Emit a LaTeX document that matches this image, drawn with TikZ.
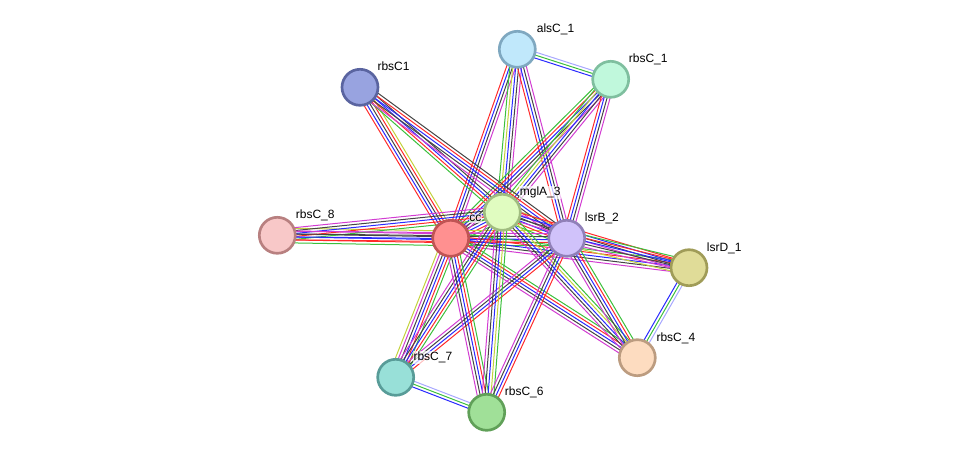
\documentclass[tikz,border=0pt]{standalone}
\usepackage{fontspec}
\setmainfont{Liberation Sans}
\usetikzlibrary{calc}
\pgfdeclarelayer{background}
\pgfsetlayers{background,main}
\definecolor{sgreen}{HTML}{3CC03C}
\definecolor{sred}{HTML}{FF2A2A}
\definecolor{sblue}{HTML}{2A2AFF}
\definecolor{sblack}{HTML}{444444}
\definecolor{smag}{HTML}{D23CD2}
\definecolor{syel}{HTML}{C3D23C}
\definecolor{slav}{HTML}{A8A8FF}
\newcommand\bund[3]{%
  \edef\blist{#3}%
  \foreach \c [count=\i] in \blist {\xdef\bn{\i}}%
  \foreach \c [count=\i] in \blist {%
    \pgfmathsetmacro\o{(\i-(\bn+1)/2)*2.2}%
    \draw[edge,\c] ($(#1.center)!\o pt!90:(#2.center)$) -- ($(#2.center)!\o pt!-90:(#1.center)$);
  }}
\def\LA{sgreen,sred,sblue,sblack,smag}
\def\LB{sred,sblue,sblack,smag}
\def\LC{sgreen,sred,sblue,sblack,smag,syel}
\def\LD{sgreen,syel,sblue,sblack,smag}
\def\LH{sblue,sgreen,slav}
\tikzset{
  gnode/.style={circle,minimum size=27pt,inner sep=0pt,line width=2pt},
  lbl/.style={anchor=base west,font=\fontsize{9pt}{10pt}\selectfont,inner sep=0.6pt,
    fill=white,fill opacity=0.7,text opacity=1},
  edge/.style={line width=0.75pt}
}
\begin{document}
\begin{tikzpicture}[x=0.75pt,y=-0.75pt]
\useasboundingbox (0,0) rectangle (976,458);
% labels (under nodes)
\node[lbl] (t-cc) at (468.3,221.6) {cc};
% nodes
\node[gnode,fill={rgb,255:red,255;green,144;blue,144},draw={rgb,255:red,192;green,84;blue,84}] (cc) at (450.7,238.3) {};
\node[gnode,fill={rgb,255:red,224;green,252;blue,192},draw={rgb,255:red,160;green,188;blue,128}] (mglA) at (502.3,212.3) {};
\node[gnode,fill={rgb,255:red,208;green,194;blue,250},draw={rgb,255:red,144;green,128;blue,184}] (lsrB) at (566.7,238.3) {};
\node[gnode,fill={rgb,255:red,192;green,232;blue,251},draw={rgb,255:red,127;green,168;blue,192}] (alsC) at (517.3,49.3) {};
\node[gnode,fill={rgb,255:red,192;green,248;blue,220},draw={rgb,255:red,127;green,191;blue,159}] (rbsCa) at (610.7,79.3) {};
\node[gnode,fill={rgb,255:red,152;green,163;blue,224},draw={rgb,255:red,90;green,100;blue,160}] (rbsCb) at (360,87.3) {};
\node[gnode,fill={rgb,255:red,248;green,200;blue,200},draw={rgb,255:red,184;green,128;blue,128}] (rbsCh) at (277.3,235.3) {};
\node[gnode,fill={rgb,255:red,224;green,220;blue,152},draw={rgb,255:red,160;green,156;blue,88}] (lsrD) at (689,267.7) {};
\node[gnode,fill={rgb,255:red,253;green,220;blue,192},draw={rgb,255:red,188;green,156;blue,128}] (rbsCd) at (637.3,357.7) {};
\node[gnode,fill={rgb,255:red,152;green,224;blue,216},draw={rgb,255:red,88;green,156;blue,152}] (rbsCg) at (395.7,377.3) {};
\node[gnode,fill={rgb,255:red,160;green,224;blue,152},draw={rgb,255:red,96;green,160;blue,88}] (rbsCf) at (486.7,412.3) {};
% other labels
\node[lbl] at (535.8,32.6) {alsC\_1};
\node[lbl] at (627.8,62.6) {rbsC\_1};
\node[lbl] at (376.5,70.6) {rbsC1};
\node[lbl] at (518.8,195.6) {mglA\_3};
\node[lbl] at (583.8,221.6) {lsrB\_2};
\node[lbl] at (294.8,218.6) {rbsC\_8};
\node[lbl] at (705.8,251) {lsrD\_1};
\node[lbl] at (655.5,341) {rbsC\_4};
\node[lbl] at (412.5,360.6) {rbsC\_7};
\node[lbl] at (503.8,395.6) {rbsC\_6};
\begin{pgfonlayer}{background}
% core
\bund{cc}{mglA}{\LC}
\bund{cc}{lsrB}{\LC}
\bund{mglA}{lsrB}{\LC}
% alsC_1
\bund{alsC}{cc}{\LB}
\bund{alsC}{mglA}{\LD}
\bund{alsC}{lsrB}{\LB}
% rbsC_1
\bund{rbsCa}{cc}{\LA}
\bund{rbsCa}{mglA}{\LD}
\bund{rbsCa}{lsrB}{\LB}
% rbsC1
\bund{rbsCb}{cc}{sred,sblue,sblack,sred,syel}
\bund{rbsCb}{mglA}{sgreen,sred,sblue,sblack}
\bund{rbsCb}{lsrB}{smag,sblack,sblue,sred,sblack}
% rbsC_8
\bund{rbsCh}{cc}{\LC}
\bund{rbsCh}{mglA}{\LA}
\bund{rbsCh}{lsrB}{\LB}
% lsrD_1
\bund{lsrD}{cc}{\LA}
\bund{lsrD}{mglA}{\LB}
\bund{lsrD}{lsrB}{\LC}
% rbsC_4
\bund{rbsCd}{cc}{\LA}
\bund{rbsCd}{mglA}{\LD}
\bund{rbsCd}{lsrB}{\LA}
% rbsC_7
\bund{rbsCg}{cc}{\LC}
\bund{rbsCg}{mglA}{\LA}
\bund{rbsCg}{lsrB}{\LB}
% rbsC_6
\bund{rbsCf}{cc}{\LA}
\bund{rbsCf}{mglA}{\LD}
\bund{rbsCf}{lsrB}{\LB}
% homology-like pairs
\bund{alsC}{rbsCa}{\LH}
\bund{lsrD}{rbsCd}{\LH}
\bund{rbsCg}{rbsCf}{\LH}
\end{pgfonlayer}
\end{tikzpicture}
\end{document}
